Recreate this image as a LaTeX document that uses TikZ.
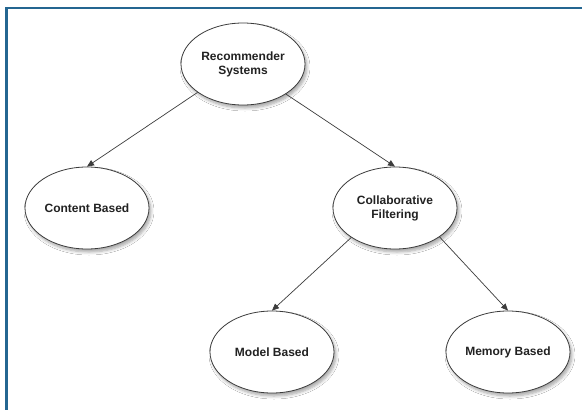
\documentclass[tikz,border=0pt]{standalone}
\usepackage{fontspec}
\setmainfont{Liberation Sans}
\usetikzlibrary{shapes.geometric,arrows.meta,shadows.blur}
\definecolor{frameblue}{RGB}{36,102,145}
\definecolor{txt}{RGB}{34,34,34}
\definecolor{edge}{RGB}{60,60,60}
\tikzset{
  bub/.style={ellipse, draw=edge, line width=0.8pt, fill=white,
    minimum width=124pt, minimum height=82pt, inner sep=0pt,
    font=\bfseries\fontsize{12}{14}\selectfont, text=txt, align=center,
    blur shadow={shadow xshift=2pt, shadow yshift=-3pt, shadow opacity=35, shadow blur radius=3pt, shadow blur steps=6}},
  conn/.style={draw=edge, line width=0.7pt, -{Triangle[length=7pt,width=6pt]}}
}
\begin{document}
\begin{tikzpicture}[x=1pt,y=-1pt]
\useasboundingbox (0,0) rectangle (582,410);
\fill[white] (0,0) rectangle (582,410);
\draw[frameblue, line width=2.2pt] (6.5,410) -- (6.5,8) -- (582,8);
\node[bub] (rs) at (243,64) {Recommender\\Systems};
\node[bub] (cb) at (87,208) {Content Based};
\node[bub] (cf) at (395,208) {Collaborative\\Filtering};
\node[bub] (mb) at (272,352) {Model Based};
\node[bub] (mem) at (508,352) {Memory Based};
\draw[conn] (rs.212) -- (cb.north);
\draw[conn] (rs.325) -- (cf.north);
\draw[conn] (cf.214) -- (mb.north);
\draw[conn] (cf.327) -- (mem.north);
\end{tikzpicture}
\end{document}
